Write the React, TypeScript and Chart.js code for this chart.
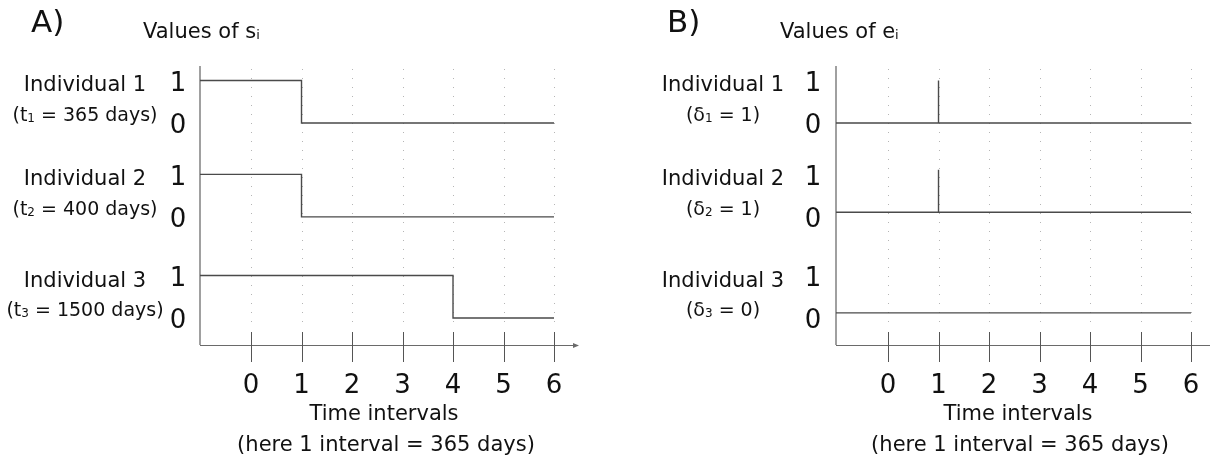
import React, { useEffect, useRef } from "react";
import { Chart, registerables } from "chart.js";

Chart.register(...registerables);

// ---------- data ----------
const intervals = [0, 1, 2, 3, 4, 5, 6];
const tickLabels = ["0", "1", "2", "3", "4", "5", "6"];
const individuals = ["Individual 1", "Individual 2", "Individual 3"];
const survivalDays = [365, 400, 1500];
const deltas = [1, 1, 0];
const s1 = [1, 0, 0, 0, 0, 0, 0];
const s2 = [1, 0, 0, 0, 0, 0, 0];
const s3 = [1, 1, 1, 1, 0, 0, 0];
const e1 = [0, 1, 0, 0, 0, 0, 0];
const e2 = [0, 1, 0, 0, 0, 0, 0];
const e3 = [0, 0, 0, 0, 0, 0, 0];
const levelLabels = ["0", "1"];
const xAxisTitle = "Time intervals";
const xAxisNote = "(here 1 interval = 365 days)";

// ---------- layout / style ----------
const FONT = "'DejaVu Sans', sans-serif";
const W = 605;
const H = 465;
const Y_MIN = -0.635;
const Y_MAX = 5.93;
const LABEL_BASES = [4.59, 2.38, 0];
const A_BASES = [4.59, 2.38, 0];
const B_BASES = [4.59, 2.49, 0.12];
const LINE_COLOR = "#4a4a4a";
const TEXT_COLOR = "#111";

type Seg = { text: string; sub?: boolean };

type PanelCfg = {
  letter: string;
  title: Seg[];
  letterX: number;
  titleX: number;
  labelCenterX: number;
  levelLabelX: number;
  padding: { left: number; right: number; top: number; bottom: number };
  xMin: number;
  xMax: number;
  arrow: boolean;
  paren: (i: number) => Seg[];
  datasets: (xMin: number) => any[];
};

function drawSegments(ctx: CanvasRenderingContext2D, segs: Seg[], x: number, y: number, size: number, align: "left" | "center") {
  const subSize = Math.round(size * 0.62);
  const widths = segs.map((s) => {
    ctx.font = `${s.sub ? subSize : size}px ${FONT}`;
    return ctx.measureText(s.text).width;
  });
  const total = widths.reduce((a, b) => a + b, 0);
  let cx = align === "center" ? x - total / 2 : x;
  ctx.textAlign = "left";
  ctx.textBaseline = "alphabetic";
  segs.forEach((s, i) => {
    ctx.font = `${s.sub ? subSize : size}px ${FONT}`;
    ctx.fillText(s.text, cx, s.sub ? y + size * 0.06 : y);
    cx += widths[i];
  });
}

const sSeries = [s1, s2, s3];
const eSeries = [e1, e2, e3];

const panelA: PanelCfg = {
  letter: "A)",
  title: [{ text: "Values of s" }, { text: "i", sub: true }],
  letterX: 31,
  titleX: 143,
  labelCenterX: 85,
  levelLabelX: 178,
  padding: { left: 200, right: 27, top: 66, bottom: 120 },
  xMin: -1.01,
  xMax: 6.475,
  arrow: true,
  paren: (i) => [{ text: "(t" }, { text: String(i + 1), sub: true }, { text: ` = ${survivalDays[i]} days)` }],
  datasets: (xMin) =>
    sSeries.map((s, k) => ({
      data: [{ x: xMin, y: A_BASES[k] + s[0] }, ...intervals.map((t, j) => ({ x: t, y: A_BASES[k] + s[j] }))],
      stepped: "before",
      borderColor: LINE_COLOR,
      borderWidth: 1.4,
      pointRadius: 0,
      fill: false,
      clip: false,
    })),
};

const panelB: PanelCfg = {
  letter: "B)",
  title: [{ text: "Values of e" }, { text: "i", sub: true }],
  letterX: 62,
  titleX: 175,
  labelCenterX: 118,
  levelLabelX: 208,
  padding: { left: 231, right: 0, top: 66, bottom: 120 },
  xMin: -1.03,
  xMax: 6.376,
  arrow: false,
  paren: (i) => [{ text: "(δ" }, { text: String(i + 1), sub: true }, { text: ` = ${deltas[i]})` }],
  datasets: (xMin) =>
    eSeries.map((e, k) => {
      const pts: { x: number; y: number }[] = [{ x: xMin, y: B_BASES[k] }];
      intervals.forEach((t, j) => {
        pts.push({ x: t, y: B_BASES[k] });
        if (e[j] === 1) {
          pts.push({ x: t, y: B_BASES[k] + e[j] });
          pts.push({ x: t, y: B_BASES[k] });
        }
      });
      return {
        data: pts,
        borderColor: LINE_COLOR,
        borderWidth: 1.4,
        pointRadius: 0,
        fill: false,
        tension: 0,
        clip: false,
      };
    }),
};

function makePlugin(cfg: PanelCfg) {
  return {
    id: "panelDecor",
    beforeDatasetsDraw(chart: any) {
      const { ctx, chartArea } = chart;
      const xs = chart.scales.x;
      const { left, right, top, bottom } = chartArea;
      ctx.save();
      // dotted vertical grid
      ctx.strokeStyle = "#b5b5b5";
      ctx.lineWidth = 1;
      ctx.setLineDash([1, 8]);
      intervals.forEach((t) => {
        const px = Math.round(xs.getPixelForValue(t)) + 0.5;
        ctx.beginPath();
        ctx.moveTo(px, top + 3);
        ctx.lineTo(px, bottom - 22);
        ctx.stroke();
      });
      ctx.setLineDash([]);
      // y axis
      ctx.strokeStyle = "#808080";
      ctx.lineWidth = 1.5;
      ctx.beginPath();
      ctx.moveTo(left, top);
      ctx.lineTo(left, bottom);
      ctx.stroke();
      // x axis
      ctx.strokeStyle = "#6a6a6a";
      ctx.lineWidth = 1;
      ctx.beginPath();
      ctx.moveTo(left, bottom + 0.5);
      ctx.lineTo(cfg.arrow ? right - 4 : right, bottom + 0.5);
      ctx.stroke();
      if (cfg.arrow) {
        ctx.fillStyle = "#6a6a6a";
        ctx.beginPath();
        ctx.moveTo(right + 1, bottom + 0.5);
        ctx.lineTo(right - 5, bottom - 2);
        ctx.lineTo(right - 5, bottom + 3);
        ctx.closePath();
        ctx.fill();
      }
      // tick marks
      ctx.strokeStyle = "#555";
      ctx.lineWidth = 1;
      intervals.forEach((t) => {
        const px = Math.round(xs.getPixelForValue(t)) + 0.5;
        ctx.beginPath();
        ctx.moveTo(px, bottom - 13);
        ctx.lineTo(px, bottom + 17);
        ctx.stroke();
      });
      ctx.restore();
    },
    afterDraw(chart: any) {
      const { ctx, chartArea } = chart;
      const xs = chart.scales.x;
      const ys = chart.scales.y;
      const { left, right, bottom } = chartArea;
      ctx.save();
      ctx.fillStyle = TEXT_COLOR;
      // panel letter and title
      ctx.font = `31px ${FONT}`;
      ctx.textAlign = "left";
      ctx.textBaseline = "alphabetic";
      ctx.fillText(cfg.letter, cfg.letterX, 32);
      drawSegments(ctx, cfg.title, cfg.titleX, 38, 21, "left");
      // individual labels and level labels
      individuals.forEach((name, k) => {
        const y1 = ys.getPixelForValue(LABEL_BASES[k] + 1);
        const y0 = ys.getPixelForValue(LABEL_BASES[k]);
        drawSegments(ctx, [{ text: name }], cfg.labelCenterX, y1 + 11, 21, "center");
        drawSegments(ctx, cfg.paren(k), cfg.labelCenterX, y0 - 2, 19, "center");
        ctx.font = `26px ${FONT}`;
        ctx.textAlign = "center";
        ctx.fillText(levelLabels[1], cfg.levelLabelX, y1 + 10.5);
        ctx.fillText(levelLabels[0], cfg.levelLabelX, y0 + 10);
      });
      // x tick labels
      ctx.font = `26px ${FONT}`;
      ctx.textAlign = "center";
      intervals.forEach((t, j) => {
        ctx.fillText(tickLabels[j], xs.getPixelForValue(t), bottom + 48);
      });
      // axis titles
      const cx = (left + right) / 2 - 5;
      ctx.font = `21px ${FONT}`;
      ctx.fillText(xAxisTitle, cx, bottom + 75);
      ctx.fillText(xAxisNote, cx + 2, bottom + 106);
      ctx.restore();
    },
  };
}

function Panel({ cfg, left }: { cfg: PanelCfg; left: number }) {
  const ref = useRef<HTMLCanvasElement>(null);
  useEffect(() => {
    const chart = new Chart(ref.current as HTMLCanvasElement, {
      type: "line",
      data: { datasets: cfg.datasets(cfg.xMin) },
      options: {
        animation: false,
        responsive: false,
        devicePixelRatio: 1,
        events: [],
        layout: { padding: cfg.padding },
        scales: {
          x: { type: "linear", min: cfg.xMin, max: cfg.xMax, display: false },
          y: { type: "linear", min: Y_MIN, max: Y_MAX, display: false },
        },
        plugins: { legend: { display: false }, tooltip: { enabled: false } },
      } as any,
      plugins: [makePlugin(cfg)],
    });
    return () => chart.destroy();
  }, [cfg]);
  return (
    <canvas
      ref={ref}
      width={W}
      height={H}
      style={{ position: "absolute", left, top: 0, width: W, height: H }}
    />
  );
}

export default function App() {
  return (
    <div style={{ position: "fixed", left: 0, top: 0, width: 1210, height: 465, background: "#fff", overflow: "hidden" }}>
      <Panel cfg={panelA} left={0} />
      <Panel cfg={panelB} left={605} />
    </div>
  );
}
